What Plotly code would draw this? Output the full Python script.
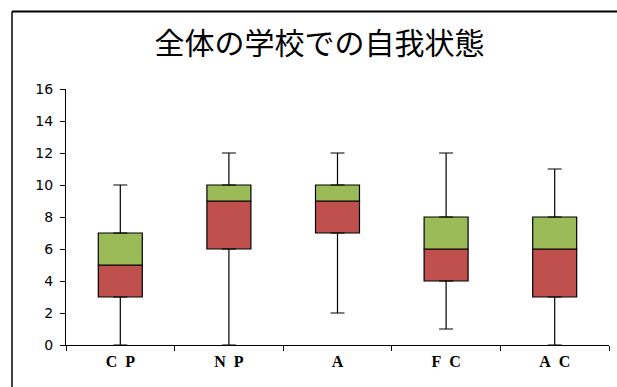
import plotly.graph_objects as go

categories = ["C P", "N P", "A", "F C", "A C"]
mins = [0, 0, 2, 1, 0]
q1 = [3, 6, 7, 4, 3]
medians = [5, 9, 9, 6, 6]
q3 = [7, 10, 10, 8, 8]
maxs = [10, 12, 12, 12, 11]
y_ticks = list(range(0, 17, 2))
x_ticktext = [c.replace(" ", "\u2002") for c in categories]

fig = go.Figure()

# lower box: Q1 -> median
fig.add_trace(go.Bar(
    x=categories, y=[m - a for m, a in zip(medians, q1)], base=q1,
    marker=dict(color="#C0504D", line=dict(color="black", width=1.2)),
    width=0.405, showlegend=False, hoverinfo="skip"))
# upper box: median -> Q3
fig.add_trace(go.Bar(
    x=categories, y=[b - m for b, m in zip(q3, medians)], base=medians,
    marker=dict(color="#9BBB59", line=dict(color="black", width=1.2)),
    width=0.405, showlegend=False, hoverinfo="skip"))
# upper whisker: Q3 -> max
fig.add_trace(go.Scatter(
    x=categories, y=q3, mode="markers", marker=dict(size=1, opacity=0),
    error_y=dict(type="data", symmetric=False,
                 array=[mx - b for mx, b in zip(maxs, q3)],
                 arrayminus=[0] * len(q3),
                 color="black", thickness=1.2, width=7),
    showlegend=False, hoverinfo="skip"))
# lower whisker: min -> Q1
fig.add_trace(go.Scatter(
    x=categories, y=q1, mode="markers", marker=dict(size=1, opacity=0),
    error_y=dict(type="data", symmetric=False,
                 array=[0] * len(q1),
                 arrayminus=[a - mn for a, mn in zip(q1, mins)],
                 color="black", thickness=1.2, width=7),
    showlegend=False, hoverinfo="skip"))

fig.update_layout(
    width=617, height=387,
    margin=dict(l=66, r=8, t=89, b=42),
    paper_bgcolor="white", plot_bgcolor="white",
    barmode="overlay",
    title=dict(text="全体の学校での自我状態", x=0.518, xanchor="center",
               y=0.887, yanchor="middle",
               font=dict(family="Noto Sans CJK JP", size=30, color="black")),
    xaxis=dict(type="category", showgrid=False, showline=True,
               linecolor="black", linewidth=1.2, ticks="outside",
               tickson="boundaries", ticklen=5, tickcolor="black",
               tickvals=categories, ticktext=x_ticktext,
               tickfont=dict(family="Liberation Serif", size=16, color="black",
                             weight="bold"),
               ticklabelstandoff=2,
               range=[-0.5, 4.5]),
    yaxis=dict(range=[0, 16], tickvals=y_ticks, showgrid=False, zeroline=False,
               showline=True, linecolor="black", linewidth=1.2,
               ticks="outside", ticklen=5, tickcolor="black",
               ticklabelstandoff=4,
               tickfont=dict(family="DejaVu Sans", size=14, color="black")),
    shapes=[
        dict(type="line", xref="paper", yref="paper",
             x0=(12 - 66) / 543, x1=2, y0=(345 - 11.5) / 256, y1=(345 - 11.5) / 256,
             line=dict(color="black", width=2)),
        dict(type="line", xref="paper", yref="paper",
             x0=(12 - 66) / 543, x1=(12 - 66) / 543, y0=(345 - 11.5) / 256, y1=-1,
             line=dict(color="black", width=1.5)),
    ],
)

fig.write_html("out.html")
